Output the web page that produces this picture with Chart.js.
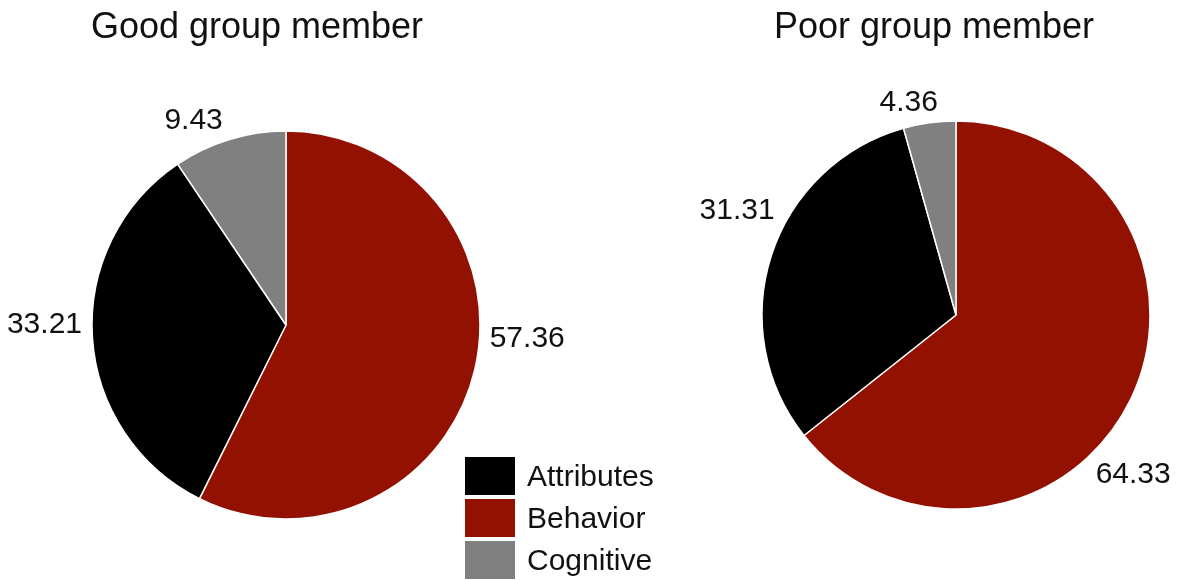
<!DOCTYPE html>
<html>
<head>
<meta charset="utf-8">
<script src="https://cdn.jsdelivr.net/npm/chart.js@4.4.1/dist/chart.umd.min.js"></script>
<style>
  body { margin: 0; background: #fff; }
  #wrap { position: relative; width: 1184px; height: 580px; overflow: hidden; font-family: "Liberation Sans", Arial, sans-serif; }
  canvas { position: absolute; top: 0; }
  #legend { position: absolute; left: 465px; top: 457px; }
  .item { display: flex; align-items: center; height: 38px; margin-bottom: 4px; }
  .box { width: 50px; height: 38px; margin-right: 12px; }
  .lab { font-size: 30px; color: #111; }
</style>
</head>
<body>
<div id="wrap">
  <canvas id="good" width="592" height="580" style="left:0"></canvas>
  <canvas id="poor" width="592" height="580" style="left:592px"></canvas>
  <div id="legend"></div>
</div>
<script>
const categories = ["Attributes", "Behavior", "Cognitive"];
const goodValues = [33.21, 57.36, 9.43];
const poorValues = [31.31, 64.33, 4.36];
const titles = ["Good group member", "Poor group member"];
// slices go clockwise from 12 o'clock in this order
const drawOrder = [1, 0, 2];

const colors = ["#000000", "#921100", "#808080"];
// labels were nudged round the pie a bit in the original (degrees, per slice in draw order)
const goodNudge = [-10, 3.7, -1.5];
const poorNudge = [21, 9.3, -1.5];

// legend
const legend = document.getElementById("legend");
categories.forEach((c, i) => {
    const row = document.createElement("div");
    row.className = "item";
    row.innerHTML = '<div class="box" style="background:' + colors[i] + '"></div><span class="lab">' + c + '</span>';
    legend.appendChild(row);
});

const clamp = v => Math.max(-1, Math.min(1, v));

function textPlugin(title, titleX, nudge) {
    return {
        id: "pieText",
        afterDatasetsDraw(chart) {
            const ctx = chart.ctx;
            ctx.save();
            ctx.fillStyle = "#111";
            ctx.font = "36px 'Liberation Sans', Arial, sans-serif";
            ctx.textAlign = "center";
            ctx.textBaseline = "alphabetic";
            ctx.fillText(title, titleX, 38);

            ctx.font = "30px 'Liberation Sans', Arial, sans-serif";
            ctx.textBaseline = "middle";
            const meta = chart.getDatasetMeta(0);
            const vals = chart.data.datasets[0].data;
            meta.data.forEach((arc, i) => {
                const mid = (arc.startAngle + arc.endAngle) / 2 + nudge[i] * Math.PI / 180;
                const txt = vals[i].toFixed(2);
                const w = ctx.measureText(txt).width;
                const h = 22;
                const cx = Math.cos(mid), sy = Math.sin(mid);
                const r = arc.outerRadius + 10;
                // push the text box out so its near corner sits on the anchor point
                const x = arc.x + r * cx + clamp(cx * 3) * w / 2;
                const y = arc.y + r * sy + clamp(sy * 3) * h / 2;
                ctx.fillText(txt, x, y);
            });
            ctx.restore();
        }
    };
}

function makePie(id, values, title, titleX, nudge, pad) {
    const data = drawOrder.map(i => values[i]);
    const bg = drawOrder.map(i => colors[i]);
    const labels = drawOrder.map(i => categories[i]);
    return new Chart(document.getElementById(id), {
        type: "pie",
        data: {
            labels: labels,
            datasets: [{
                data: data,
                backgroundColor: bg,
                borderColor: "#ffffff",
                borderWidth: 1.5
            }]
        },
        options: {
            responsive: false,
            animation: false,
            radius: 194,
            layout: { padding: pad },
            plugins: {
                legend: { display: false },
                tooltip: { enabled: false }
            }
        },
        plugins: [textPlugin(title, titleX, nudge)]
    });
}

makePie("good", goodValues, titles[0], 257, goodNudge, { left: 91, right: 111, top: 130, bottom: 60 });
makePie("poor", poorValues, titles[1], 934 - 592, poorNudge, { left: 169, right: 33, top: 120, bottom: 70 });
</script>
</body>
</html>
